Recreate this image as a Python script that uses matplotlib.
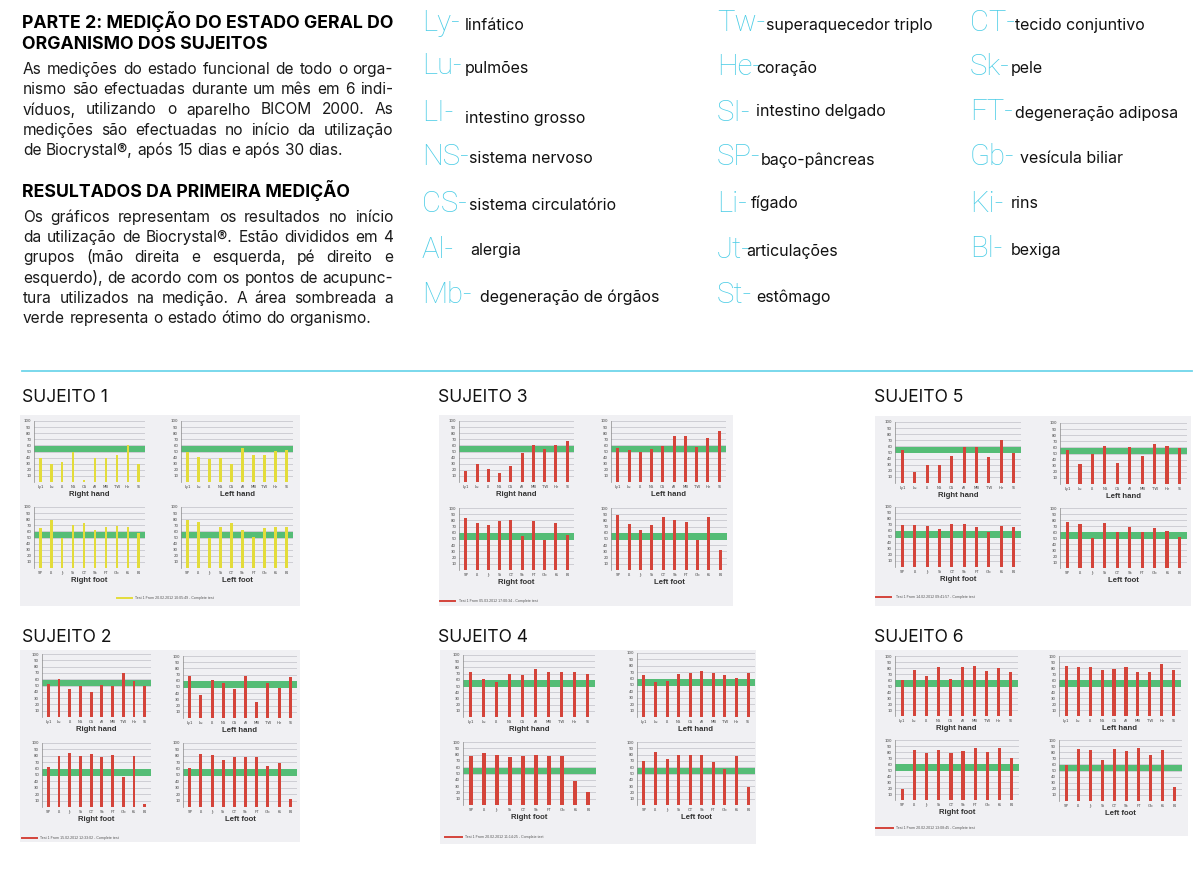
import matplotlib
matplotlib.use('Agg')
import matplotlib.pyplot as plt
from matplotlib.patches import Rectangle
from matplotlib.lines import Line2D

# ---------------- data ----------------
hand_labels = ['Ly1', 'Lu', 'LI', 'NS', 'CS', 'Al', 'MB', 'TW', 'He', 'SI']
foot_labels = ['SP', 'LI', 'Jt', 'St', 'CT', 'Sk', 'FT', 'Gb', 'Ki', 'Bl']
panel_titles = ['Right hand', 'Left hand', 'Right foot', 'Left foot']
optimal_band = (48.5, 59.5)

s1_right_hand = [39, 30, 32, 49, 3, 40, 40, 44, 60, 30]
s1_left_hand = [50, 41, 38, 40, 29, 55, 45, 45, 51, 52]
s1_right_foot = [66, 79, 50, 70, 73, 62, 67, 69, 68, 58]
s1_left_foot = [78, 76, 50, 68, 73, 62, 51, 66, 67, 67]

s2_right_hand = [52, 61, 45, 50, 39, 51, 49, 70, 57, 49]
s2_left_hand = [67, 37, 61, 56, 47, 68, 26, 57, 48, 66]
s2_right_foot = [62, 79, 84, 80, 83, 78, 82, 47, 80, 4]
s2_left_foot = [61, 83, 81, 74, 78, 78, 78, 64, 68, 13]

s3_right_hand = [18, 30, 22, 14, 26, 48, 61, 54, 60, 67]
s3_left_hand = [56, 52, 50, 54, 59, 75, 75, 57, 72, 84]
s3_right_foot = [84, 76, 72, 79, 81, 55, 79, 49, 76, 57]
s3_left_foot = [89, 74, 64, 73, 85, 81, 77, 49, 85, 32]

s4_right_hand = [72, 61, 57, 70, 68, 78, 73, 73, 73, 70]
s4_left_hand = [66, 54, 57, 67, 68, 72, 68, 65, 61, 69]
s4_right_foot = [78, 83, 79, 76, 77, 79, 77, 77, 38, 20]
s4_left_foot = [70, 84, 73, 80, 79, 80, 69, 57, 77, 28]

s5_right_hand = [54, 18, 30, 30, 44, 59, 59, 43, 70, 49]
s5_left_hand = [55, 33, 49, 62, 34, 61, 46, 66, 63, 59]
s5_right_foot = [70, 70, 68, 64, 71, 71, 67, 58, 69, 67]
s5_left_foot = [76, 73, 50, 75, 60, 68, 60, 66, 61, 51]

s6_right_hand = [60, 76, 67, 82, 62, 81, 83, 75, 80, 74]
s6_left_hand = [83, 81, 82, 76, 78, 81, 74, 73, 86, 76]
s6_right_foot = [19, 84, 78, 83, 78, 82, 86, 80, 86, 70]
s6_left_foot = [59, 85, 83, 67, 86, 82, 87, 76, 83, 23]

subject_names = ['SUJEITO 1', 'SUJEITO 2', 'SUJEITO 3', 'SUJEITO 4', 'SUJEITO 5', 'SUJEITO 6']
test_labels = [
    'Test 1 From 20.02.2012 10:05:49 - Complete test',
    'Test 1 From 15.02.2012 12:33:02 - Complete test',
    'Test 1 From 05.03.2012 17:00:34 - Complete test',
    'Test 1 From 20.02.2012 11:14:25 - Complete test',
    'Test 1 From 14.02.2012 09:41:57 - Complete test',
    'Test 1 From 20.02.2012 13:08:45 - Complete test',
]

heading1 = ['PARTE 2: MEDIÇÃO DO ESTADO GERAL DO', 'ORGANISMO DOS SUJEITOS']
para1 = ['As medições do estado funcional de todo o orga-',
         'nismo são efectuadas durante um mês em 6 indi-',
         'víduos, utilizando o aparelho BICOM 2000. As',
         'medições são efectuadas no início da utilização',
         'de Biocrystal®, após 15 dias e após 30 dias.']
heading2 = 'RESULTADOS DA PRIMEIRA MEDIÇÃO'
para2 = ['Os gráficos representam os resultados no início',
         'da utilização de Biocrystal®. Estão divididos em 4',
         'grupos (mão direita e esquerda, pé direito e',
         'esquerdo), de acordo com os pontos de acupunc-',
         'tura utilizados na medição. A área sombreada a',
         'verde representa o estado ótimo do organismo.']

col1_abbr = ['Ly-', 'Lu-', 'LI-', 'NS-', 'CS-', 'Al-', 'Mb-']
col1_desc = ['linfático', 'pulmões', 'intestino grosso', 'sistema nervoso',
             'sistema circulatório', 'alergia', 'degeneração de órgãos']
col2_abbr = ['Tw-', 'He-', 'SI-', 'SP-', 'Li-', 'Jt-', 'St-']
col2_desc = ['superaquecedor triplo', 'coração', 'intestino delgado', 'baço-pâncreas',
             'fígado', 'articulações', 'estômago']
col3_abbr = ['CT-', 'Sk-', 'FT-', 'Gb-', 'Ki-', 'Bl-']
col3_desc = ['tecido conjuntivo', 'pele', 'degeneração adiposa', 'vesícula biliar',
             'rins', 'bexiga']

# ---------------- styling / layout ----------------
W, H = 1200, 892
fig = plt.figure(figsize=(12, 8.92), dpi=100)
fig.patch.set_facecolor('white')
renderer = fig.canvas.get_renderer()

BODY = ['Inter', 'DejaVu Sans']
THIN = ['Roboto', 'DejaVu Sans']
CYAN = '#4ccde6'
SCAN_BG = '#f0f0f3'
GRID = '#c8c8ce'
GREEN = '#55bd76'
RED = '#d4443a'
YELLOW = '#e3dc3a'


def fx(x):
    return x / W


def fy(y):
    return 1 - y / H


def text_width(s, **kw):
    t = fig.text(0, 0, s, **kw)
    w = t.get_window_extent(renderer=renderer).width
    t.remove()
    return w


def fit_size(s, target, **kw):
    return 10 * target / text_width(s, fontsize=10, **kw)


def justified(lines, x0, x1, baselines, fs, **kw):
    space = text_width('a a', fontsize=fs, **kw) - text_width('aa', fontsize=fs, **kw)
    for i, (line, y) in enumerate(zip(lines, baselines)):
        words = line.split(' ')
        widths = [text_width(w, fontsize=fs, **kw) for w in words]
        if i == len(lines) - 1:
            gap = space
        else:
            gap = (x1 - x0 - sum(widths)) / (len(words) - 1)
        x = x0
        for w, wd in zip(words, widths):
            fig.text(fx(x), fy(y), w, fontsize=fs, va='baseline', ha='left', **kw)
            x += wd + gap


# ---------------- top-left text ----------------
hfs = fit_size(heading1[0], 371, family=BODY, fontweight='bold')
fig.text(fx(22), fy(28.3), heading1[0], fontsize=hfs, family=BODY, fontweight='bold', va='baseline')
fig.text(fx(22), fy(49.3), heading1[1], fontsize=hfs, family=BODY, fontweight='bold', va='baseline')
fig.text(fx(22), fy(196.7), heading2, fontsize=hfs, family=BODY, fontweight='bold', va='baseline')

bfs = fit_size(para2[-1], 349, family=BODY)
justified(para1, 23, 393, [74 + 20.25 * i for i in range(5)], bfs, family=BODY, color='#1a1a1a')
justified(para2, 23, 393, [221.7 + 20.3 * i for i in range(6)], bfs, family=BODY, color='#1a1a1a')

# ---------------- abbreviation legend ----------------
afs = fit_size('Mb-', 50, family=THIN, fontweight='light')
dfs = fit_size('degeneração de órgãos', 181, family=BODY)

col1_ab_base = [30.7, 74, 120.7, 165, 211.7, 258, 303]
col1_de_base = [30, 72.7, 122.7, 163, 210, 255, 301.7]
col1_de_x = [465, 465, 465, 469, 469, 470, 480]
col2_ab_base = [30.7, 75, 120.7, 165, 211.7, 258.3, 303]
col2_de_base = [30, 72.7, 116, 165, 208.3, 256, 301.7]
col2_de_x = [766, 756, 756, 761, 751, 746, 756]
col3_ab_base = [30.7, 75, 120, 165, 211.7, 257.3]
col3_de_base = [30, 72.7, 118.3, 163.3, 208.3, 255]
col3_de_x = [1015, 1011, 1015, 1020, 1011, 1011]

for abbrs, descs, ax_x, abb, deb, dex in [
        (col1_abbr, col1_desc, 422, col1_ab_base, col1_de_base, col1_de_x),
        (col2_abbr, col2_desc, 717, col2_ab_base, col2_de_base, col2_de_x),
        (col3_abbr, col3_desc, 970, col3_ab_base, col3_de_base, col3_de_x)]:
    for a, d, yb, yd, xd in zip(abbrs, descs, abb, deb, dex):
        fig.text(fx(ax_x), fy(yb), a, fontsize=afs, family=THIN, fontweight='light',
                 color=CYAN, va='baseline')
        fig.text(fx(xd), fy(yd), d, fontsize=dfs, family=BODY, color='#111111', va='baseline')

# separator line
fig.add_artist(Line2D([fx(22), fx(1192)], [fy(371), fy(371)], transform=fig.transFigure,
                      color='#6fd6ea', lw=1.3))

# ---------------- subjects ----------------
subjects = [
    dict(name_xy=(22, 401.7), box=(20, 415, 300, 606), color=YELLOW, bw=0.2,
         axes=[(34, 145, 421, 482), (181, 293, 421, 482), (34, 145, 507, 568), (181, 293, 507, 568)],
         series=[s1_right_hand, s1_left_hand, s1_right_foot, s1_left_foot],
         legend=(117, 132, 598, 135)),
    dict(name_xy=(22, 641.7), box=(20, 650, 300, 842), color=RED, bw=0.26,
         axes=[(42, 151, 654, 717), (183, 297, 656, 718), (42, 151, 743, 807), (183, 297, 743, 807)],
         series=[s2_right_hand, s2_left_hand, s2_right_foot, s2_left_foot],
         legend=(22, 37, 838, 40)),
    dict(name_xy=(438, 401.7), box=(439, 415, 733, 606), color=RED, bw=0.26,
         axes=[(459, 574, 421, 482), (611, 726, 421, 482), (459, 574, 508, 570), (611, 727, 508, 570)],
         series=[s3_right_hand, s3_left_hand, s3_right_foot, s3_left_foot],
         legend=(440, 455, 601, 459)),
    dict(name_xy=(438, 641.7), box=(440, 650, 756, 844), color=RED, bw=0.26,
         axes=[(463, 595, 655, 717), (637, 755, 653, 717), (463, 596, 742, 805), (637, 755, 742, 805)],
         series=[s4_right_hand, s4_left_hand, s4_right_foot, s4_left_foot],
         legend=(445, 462, 837, 465)),
    dict(name_xy=(874, 401.7), box=(875, 416, 1191, 606), color=RED, bw=0.26,
         axes=[(895, 1021, 422, 483), (1060, 1187, 423, 484), (895, 1021, 507, 567), (1060, 1187, 508, 568)],
         series=[s5_right_hand, s5_left_hand, s5_right_foot, s5_left_foot],
         legend=(876, 891, 597, 896)),
    dict(name_xy=(874, 641.7), box=(875, 650, 1188, 836), color=RED, bw=0.26,
         axes=[(895, 1018, 656, 716), (1059, 1181, 656, 716), (895, 1019, 740, 800), (1059, 1182, 740, 801)],
         series=[s6_right_hand, s6_left_hand, s6_right_foot, s6_left_foot],
         legend=(876, 893, 828, 896)),
]

sfs = fit_size('SUJEITO 1', 86, family=BODY)

for name, test, sub in zip(subject_names, test_labels, subjects):
    nx, ny = sub['name_xy']
    fig.text(fx(nx), fy(ny), name, fontsize=sfs, family=BODY, color='#111111', va='baseline')
    x0, y0, x1, y1 = sub['box']
    fig.add_artist(Rectangle((fx(x0), fy(y1)), fx(x1) - fx(x0), fy(y0) - fy(y1),
                             transform=fig.transFigure, facecolor=SCAN_BG, edgecolor='none', zorder=0))
    for k, ((ax0, ax1, yt, yb), vals, title) in enumerate(zip(sub['axes'], sub['series'], panel_titles)):
        labels = hand_labels if k < 2 else foot_labels
        ax = fig.add_axes([fx(ax0), fy(yb), fx(ax1) - fx(ax0), fy(yt) - fy(yb)])
        ax.set_facecolor('none')
        ax.set_ylim(0, 100)
        ax.set_xlim(-0.6, 9.6)
        ax.set_yticks(range(10, 101, 10))
        ax.yaxis.grid(True, color=GRID, lw=0.6)
        ax.set_axisbelow(True)
        ax.axhspan(optimal_band[0], optimal_band[1], color=GREEN, lw=0, zorder=1)
        ax.bar(range(len(vals)), vals, width=sub['bw'], color=sub['color'], zorder=2)
        ax.set_xticks(range(len(labels)))
        ax.set_xticklabels(labels)
        ax.tick_params(axis='both', length=0, labelsize=2.8, labelcolor='#444444', pad=2)
        for s in ['top', 'right', 'bottom']:
            ax.spines[s].set_visible(False)
        ax.spines['left'].set_color('#8a8a8a')
        ax.spines['left'].set_linewidth(0.5)
        ax.set_xlabel(title, fontsize=5.6, family=['Liberation Sans', 'DejaVu Sans'],
                      fontweight='bold', color='#333333', labelpad=1.8)
    lx0, lx1, ly, tx = sub['legend']
    fig.add_artist(Line2D([fx(lx0), fx(lx1)], [fy(ly), fy(ly)], transform=fig.transFigure,
                          color=sub['color'], lw=1.4))
    fig.text(fx(tx), fy(ly), test, fontsize=2.6, family=['Liberation Sans', 'DejaVu Sans'],
             color='#555555', va='center')

fig.savefig('out.png', dpi=100, facecolor='white')
